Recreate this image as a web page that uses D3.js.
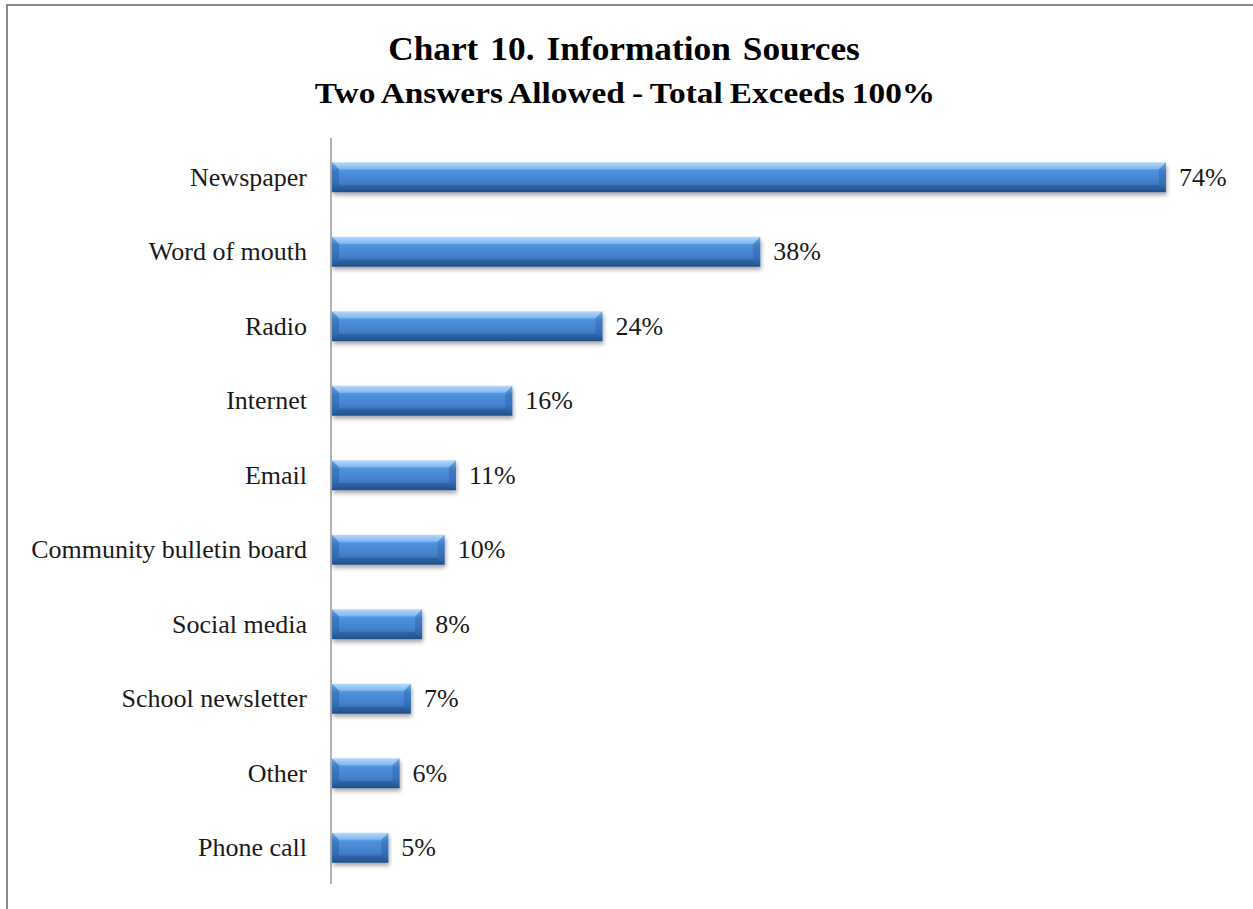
<!DOCTYPE html>
<html>
<head>
<meta charset="utf-8">
<script src="https://cdn.jsdelivr.net/npm/d3@7"></script>
<style>
  html, body { margin: 0; padding: 0; background: #fff; }
  svg { display: block; }
</style>
</head>
<body>
<svg id="chart" width="1253" height="909"></svg>
<script>
// Survey results: share of respondents naming each information source
const categories = ["Newspaper", "Word of mouth", "Radio", "Internet", "Email",
  "Community bulletin board", "Social media", "School newsletter", "Other", "Phone call"];
const percents = [74, 38, 24, 16, 11, 10, 8, 7, 6, 5];
const titleText = "Chart 10. Information Sources";
const subtitleText = "Two Answers Allowed - Total Exceeds 100%";

const data = categories.map((c, i) => ({ name: c, value: percents[i] }));

const svg = d3.select("#chart");
const W = 1253, H = 909;
const font = "'Liberation Serif', 'Times New Roman', serif";

// outer frame
svg.append("rect")
  .attr("x", 7).attr("y", 5).attr("width", W + 10).attr("height", H + 10)
  .attr("fill", "#fff").attr("stroke", "#898989").attr("stroke-width", 2);

const defs = svg.append("defs");
const grad = defs.append("linearGradient")
  .attr("id", "barFace").attr("x1", 0).attr("y1", 0).attr("x2", 0).attr("y2", 1);
[[0, "#a9d3fb"], [0.12, "#7cb8f2"], [0.3, "#4d90dc"], [0.65, "#4381cc"], [0.88, "#3268aa"], [1, "#26558f"]]
  .forEach(([o, c]) => grad.append("stop").attr("offset", o).attr("stop-color", c));

const shadow = defs.append("filter").attr("id", "barShadow")
  .attr("x", "-5%").attr("y", "-30%").attr("width", "110%").attr("height", "180%");
shadow.append("feDropShadow").attr("dx", 1).attr("dy", 3).attr("stdDeviation", 2)
  .attr("flood-color", "#000").attr("flood-opacity", 0.35);

const x = d3.scaleLinear().domain([0, 80]).range([332, 332 + 80 * 11.27]);
const y = d3.scaleBand().domain(categories).range([140, 885]).paddingInner(0.6).paddingOuter(0.3);

// titles (set slightly wide, as in the printed report)
svg.append("text")
  .attr("transform", "translate(624,60) scale(1.07,1)")
  .attr("text-anchor", "middle")
  .style("font-family", font).style("font-weight", "bold").style("font-size", "33px")
  .style("word-spacing", "3px")
  .text(titleText);
svg.append("text")
  .attr("transform", "translate(625,103) scale(1.13,1)")
  .attr("text-anchor", "middle")
  .style("font-family", font).style("font-weight", "bold").style("font-size", "29.5px")
  .style("word-spacing", "-1px")
  .text(subtitleText);

// category axis
const axis = svg.append("g")
  .attr("transform", `translate(331,0)`)
  .call(d3.axisLeft(y).tickSize(0).tickPadding(24));
axis.select(".domain").remove();
axis.append("line")
  .attr("x1", 0).attr("x2", 0).attr("y1", 138).attr("y2", 884)
  .attr("stroke", "#a0a0a0").attr("stroke-width", 1.6);
axis.selectAll(".tick text")
  .style("font-family", font).style("font-size", "26px").attr("fill", "#1a1a1a");

// bevelled bars
const b = 7;
const bars = svg.append("g").selectAll("g").data(data).join("g")
  .attr("filter", "url(#barShadow)");

bars.append("rect")
  .attr("x", x(0)).attr("y", d => y(d.name))
  .attr("width", d => x(d.value) - x(0)).attr("height", y.bandwidth())
  .attr("fill", "url(#barFace)");

// end facets
bars.append("path")
  .attr("d", d => {
    const x0 = x(0), y0 = y(d.name), y1 = y0 + y.bandwidth();
    return `M${x0},${y0}L${x0 + b},${y0 + b}L${x0 + b},${y1 - b}L${x0},${y1}Z`;
  })
  .attr("fill", "#1d4f8f").attr("opacity", 0.35);
bars.append("path")
  .attr("d", d => {
    const x1 = x(d.value), y0 = y(d.name), y1 = y0 + y.bandwidth();
    return `M${x1},${y0}L${x1 - b},${y0 + b}L${x1 - b},${y1 - b}L${x1},${y1}Z`;
  })
  .attr("fill", "#1d4f8f").attr("opacity", 0.3);
// top highlight band
bars.append("path")
  .attr("d", d => {
    const x0 = x(0), x1 = x(d.value), y0 = y(d.name);
    return `M${x0},${y0}L${x1},${y0}L${x1 - b},${y0 + b}L${x0 + b},${y0 + b}Z`;
  })
  .attr("fill", "#cfe7ff").attr("opacity", 0.3);
// bottom dark band
bars.append("path")
  .attr("d", d => {
    const x0 = x(0), x1 = x(d.value), y1 = y(d.name) + y.bandwidth();
    return `M${x0},${y1}L${x1},${y1}L${x1 - b},${y1 - b}L${x0 + b},${y1 - b}Z`;
  })
  .attr("fill", "#163f73").attr("opacity", 0.3);

// value labels
svg.append("g").selectAll("text").data(data).join("text")
  .attr("x", d => x(d.value) + 13)
  .attr("y", d => y(d.name) + y.bandwidth() / 2)
  .attr("dy", "0.32em")
  .style("font-family", font).style("font-size", "26px").attr("fill", "#1a1a1a")
  .text(d => d.value + "%");
</script>
</body>
</html>
